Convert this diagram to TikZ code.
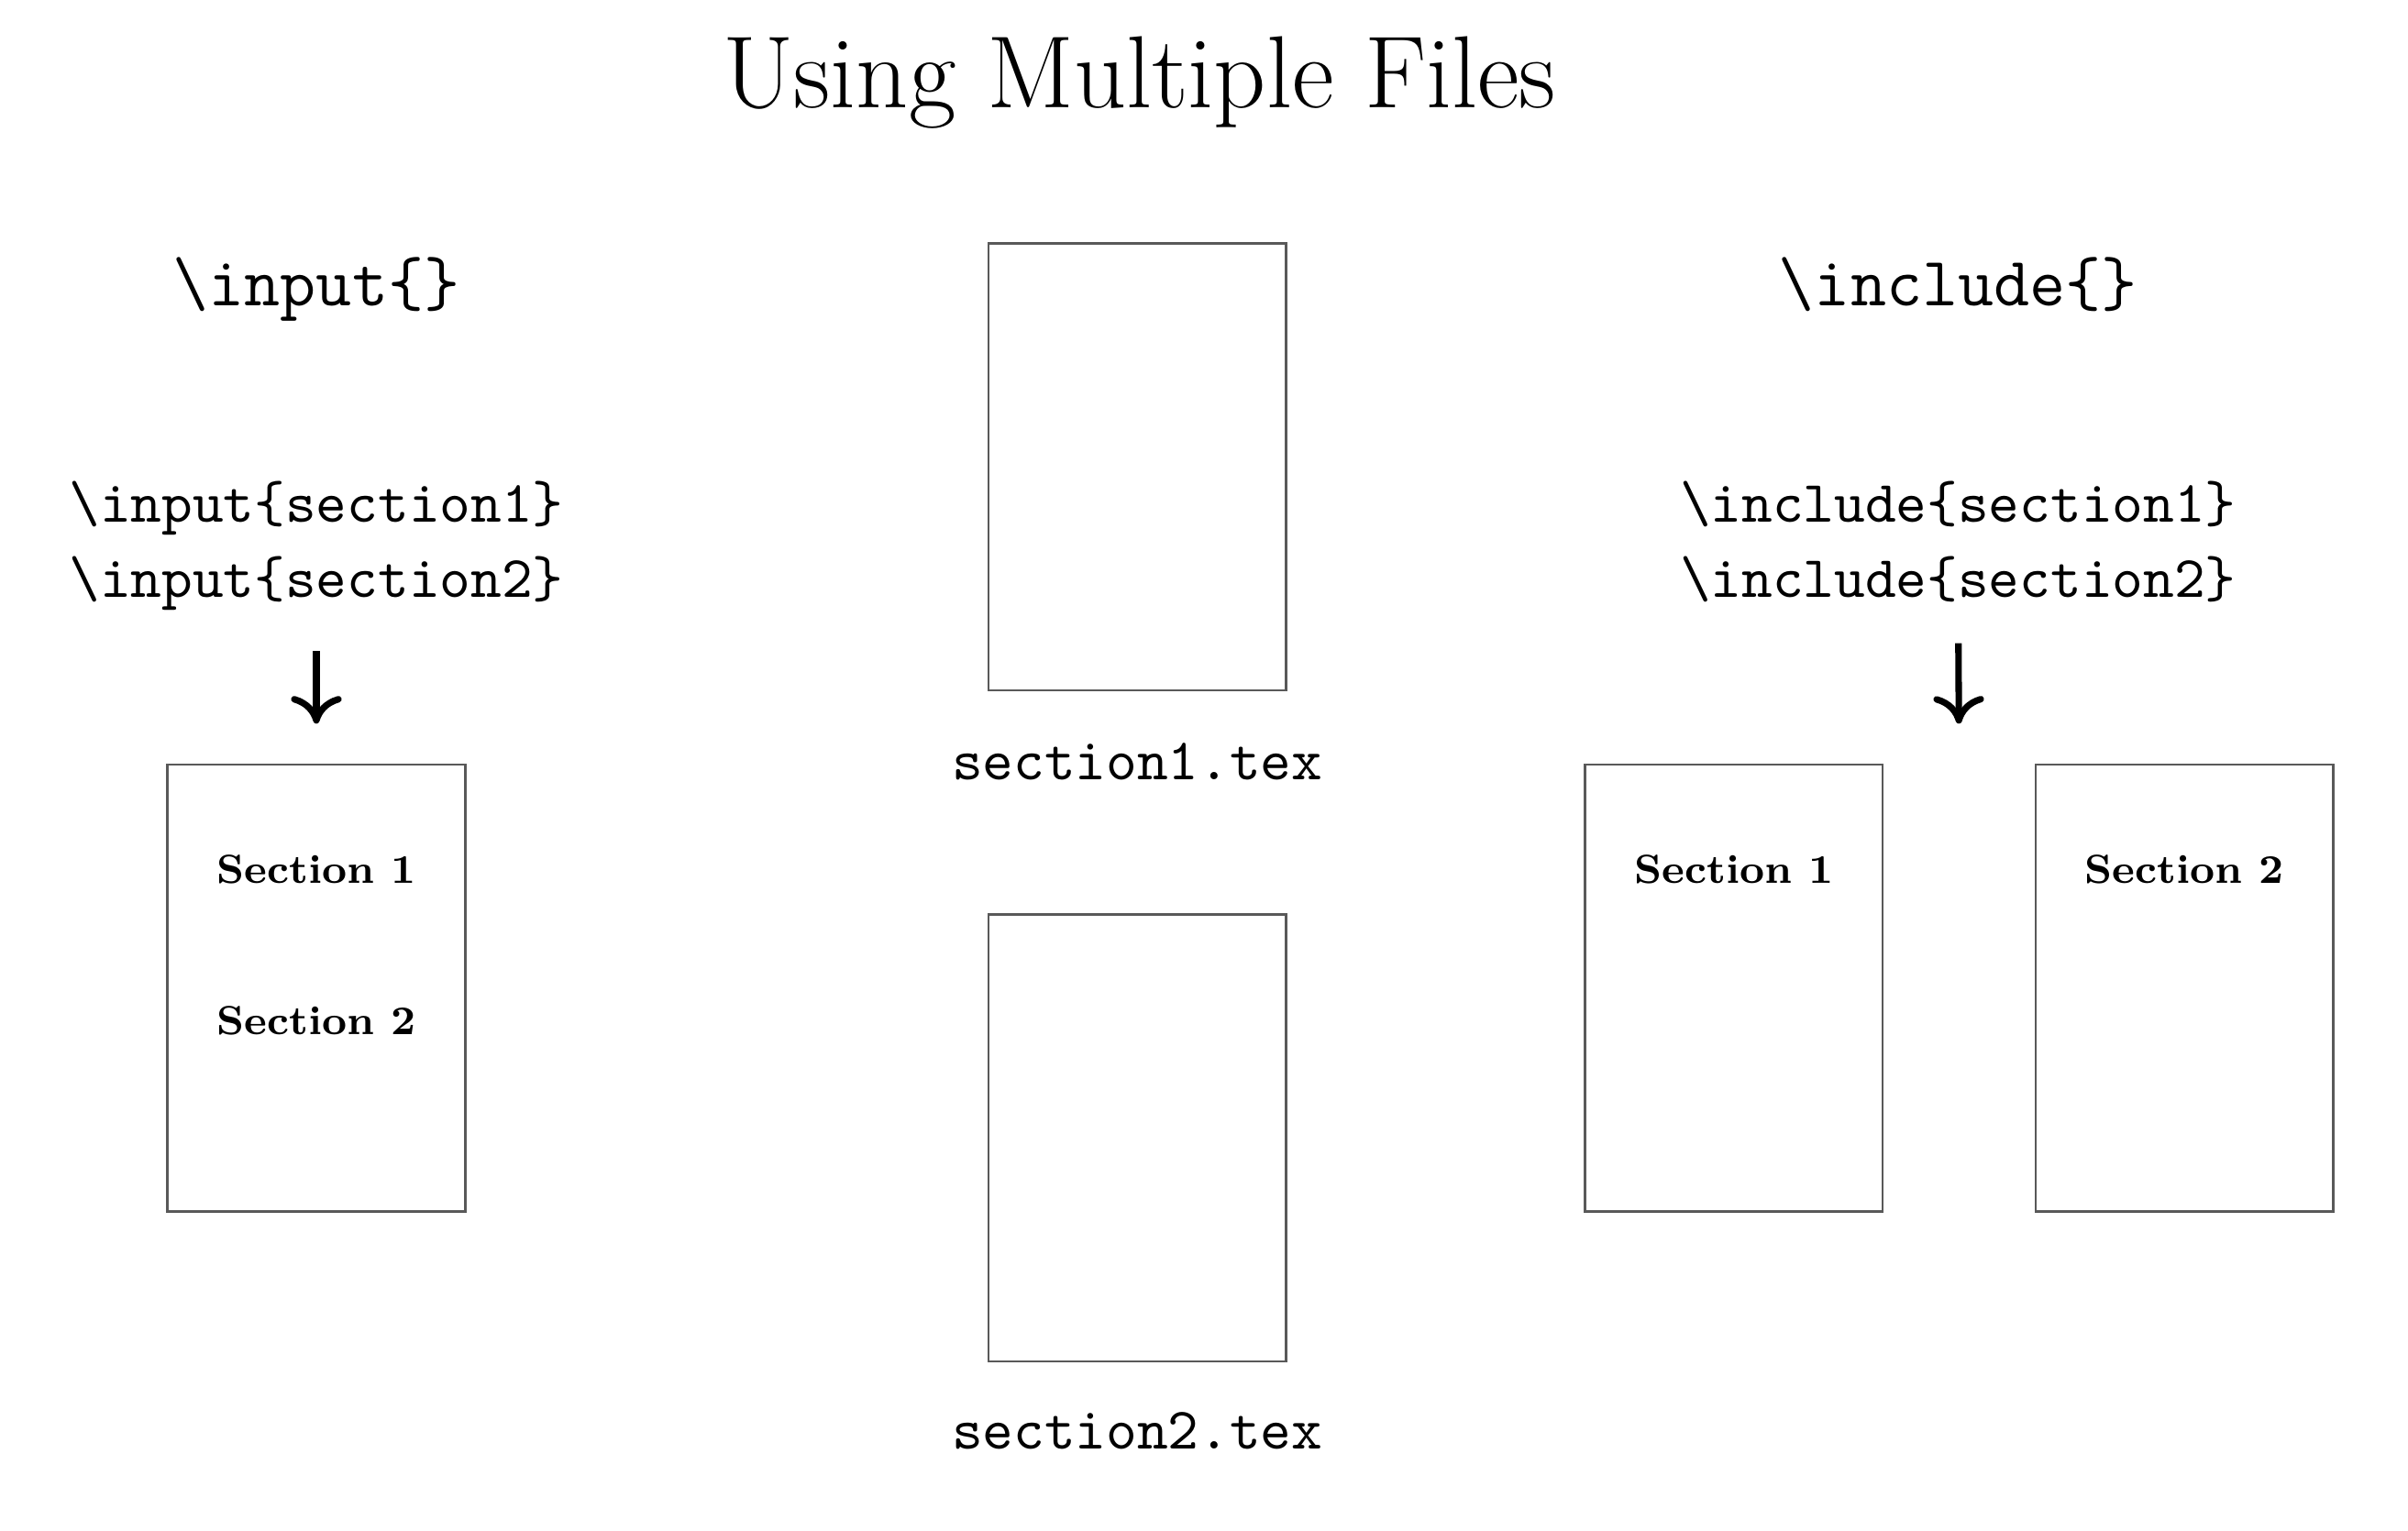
\documentclass[tikz,border=0pt]{standalone}
\usetikzlibrary{arrows.meta, positioning, calc}

\begin{document}
\begin{tikzpicture}[
    x=0.1mm, y=-0.1mm,
    page/.style={rectangle, draw=black!65, line width=0.4pt, minimum width=19.4mm, minimum height=29.1mm, inner sep=0pt},
    heading/.style={inner sep=0pt, font=\fontsize{12.9}{15}\selectfont\ttfamily},
    code/.style={inner sep=0pt, font=\fontsize{10.9}{13}\selectfont\ttfamily},
    sect/.style={inner sep=0pt, font=\fontsize{7.5}{9}\selectfont\bfseries},
    arrow/.style={-{Computer Modern Rightarrow[length=1.8mm, width=3.3mm]}, line width=1.2pt, shorten <=2.6mm, shorten >=2.6mm}
]
\useasboundingbox (0,0) rectangle (1568,997);
\node[inner sep=0pt, anchor=base, font=\fontsize{19}{23}\selectfont] (title) at (742,70) {Using Multiple Files};

% \input side
\node[heading, anchor=base] (inputhead) at (206,199) {\textbackslash input\{\}};
\node[code, anchor=base] (in1) at (206,340) {\textbackslash input\{section1\}};
\node[code, anchor=base] (in2) at ([yshift=-4.9mm]in1.base) {\textbackslash input\{section2\}};
\node[page] (inpage) at (206,643.5) {};
\node[sect] (insec1) at ([yshift=-6.9mm]inpage.north) {Section 1};
\node[sect, below=7.8mm of insec1] (insec2) {Section 2};

% the two files
\node[page] (s1page) at (740.5,304) {};
\node[code, below=3.3mm of s1page] (s1name) {section1.tex};
\node[page] (s2page) at (740.5,741) {};
\node[code, below=3.2mm of s2page] (s2name) {section2.tex};

% \include side
\node[heading, anchor=base] (includehead) at (1275,199) {\textbackslash include\{\}};
\node[code, anchor=base] (inc1) at (1275,340) {\textbackslash include\{section1\}};
\node[code, anchor=base] (inc2) at ([yshift=-4.9mm]inc1.base) {\textbackslash include\{section2\}};
\node[page] (incpage1) at (1129,643.5) {};
\node[page, right=9.8mm of incpage1] (incpage2) {};
\node[sect] (incsec1) at ([yshift=-6.9mm]incpage1.north) {Section 1};
\node[sect] (incsec2) at ([yshift=-6.9mm]incpage2.north) {Section 2};
\coordinate (inctop) at ($(incpage1.north)!0.5!(incpage2.north)$);

\draw[arrow] (in2) -- (inpage);
\draw[arrow] (inc2) -- (inctop);
\end{tikzpicture}
\end{document}
